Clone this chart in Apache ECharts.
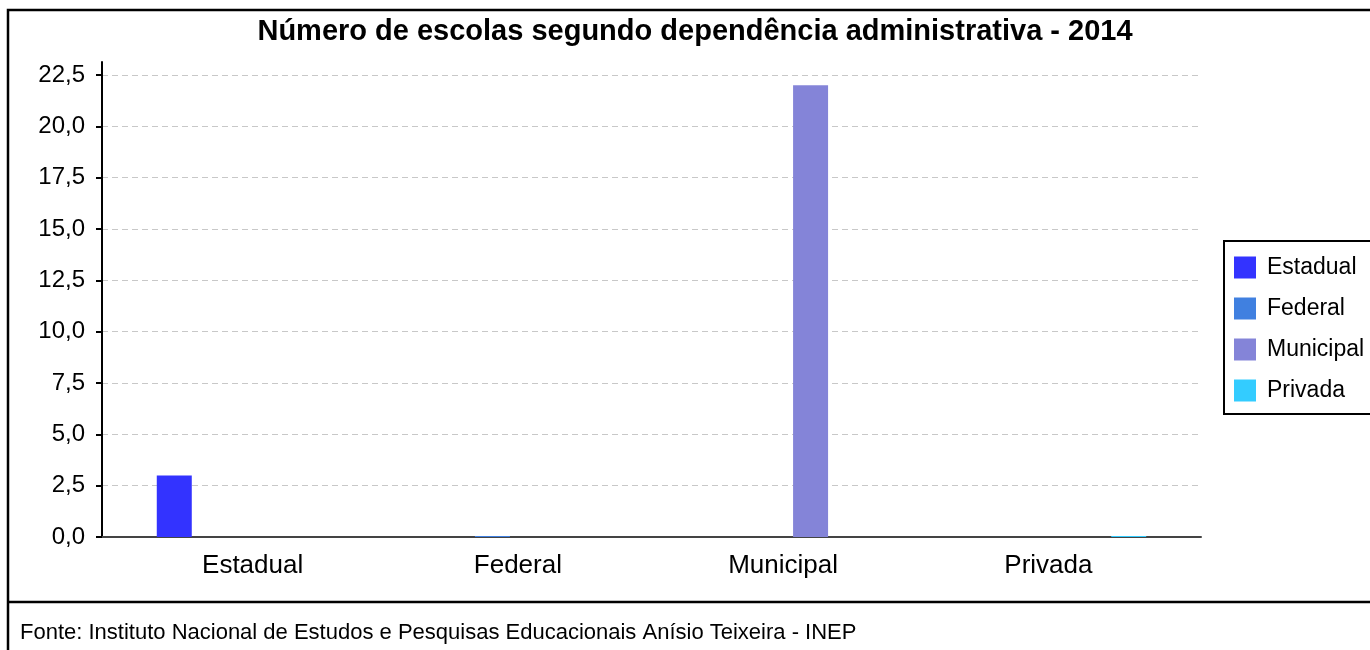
<!DOCTYPE html>
<html>
<head>
<meta charset="utf-8">
<script src="https://cdn.jsdelivr.net/npm/echarts@6/dist/echarts.min.js"></script>
<style>
html,body{margin:0;padding:0;background:#fff;}
#c{width:1370px;height:650px;}
</style>
</head>
<body>
<div id="c"></div>
<script>
const categories = ['Estadual', 'Federal', 'Municipal', 'Privada'];
const estadualValues = [3, null, null, null];
const federalValues = [null, 0, null, null];
const municipalValues = [null, null, 22, null];
const privadaValues = [null, null, null, 0];
const yTickValues = [0, 2.5, 5, 7.5, 10, 12.5, 15, 17.5, 20, 22.5];
const titleText = 'Número de escolas segundo dependência administrativa - 2014';
const sourceText = 'Fonte: Instituto Nacional de Estudos e Pesquisas Educacionais Anísio Teixeira - INEP';

const colors = ['#3333ff', '#4080e0', '#8484d8', '#33ccff'];
const FONT = 'Liberation Sans, Arial, sans-serif';
const fmt = v => v.toFixed(1).replace('.', ',');

const chart = echarts.init(document.getElementById('c'), null, {renderer: 'canvas'});

function mkSeries(name, data, color) {
  return {
    name: name, type: 'bar', data: data,
    xAxisIndex: 0, yAxisIndex: 0,
    barWidth: 35, barGap: '24%', barMinHeight: 1,
    itemStyle: {color: color},
    emphasis: {disabled: true},
    animation: false
  };
}

chart.setOption({
  animation: false,
  color: colors,
  textStyle: {fontFamily: FONT},
  title: [{
    text: titleText,
    left: 695, top: 17, padding: 0,
    textAlign: 'center',
    textStyle: {fontFamily: FONT, fontSize: 29, fontWeight: 'bold', color: '#000'}
  }, {
    text: sourceText,
    left: 20, top: 622, padding: 0,
    textStyle: {fontFamily: FONT, fontSize: 22, fontWeight: 'normal', color: '#000'}
  }],
  legend: {
    orient: 'vertical',
    left: 1224, top: 241,
    padding: [15, 10, 12, 10],
    itemWidth: 22, itemHeight: 22, itemGap: 18,
    borderColor: '#000', borderWidth: 2, borderRadius: 0,
    icon: 'rect',
    textStyle: {fontFamily: FONT, fontSize: 23, color: '#000', padding: [0, 0, 0, 6]},
    data: categories
  },
  grid: [
    {left: 102, right: 169, top: 62, bottom: 113, containLabel: false},
    {left: 120, width: 1061, top: 62, bottom: 113, containLabel: false}
  ],
  xAxis: [{
    gridIndex: 0,
    type: 'category', data: categories,
    axisLine: {show: true, lineStyle: {color: '#444', width: 2}},
    axisTick: {show: false},
    axisLabel: {show: false},
    splitLine: {show: false}
  }, {
    gridIndex: 1,
    type: 'category', data: categories,
    axisLine: {show: false},
    axisTick: {show: false},
    axisLabel: {show: true, margin: 16, fontFamily: FONT, fontSize: 26, color: '#000'},
    splitLine: {show: false}
  }],
  yAxis: [{
    gridIndex: 0,
    type: 'value', min: 0, max: 23.13, interval: 2.5,
    axisLine: {show: true, lineStyle: {color: '#000', width: 2}},
    axisTick: {show: true, length: 6, lineStyle: {color: '#000', width: 2}, customValues: yTickValues},
    axisLabel: {margin: 17, padding: [5, 0, 0, 0], fontFamily: FONT, fontSize: 24, color: '#000', formatter: fmt, customValues: yTickValues},
    splitLine: {show: true, lineStyle: {color: '#c8c8c8', width: 1, type: [6, 4]}}
  }, {
    gridIndex: 1, type: 'value', show: false, min: 0, max: 1
  }],
  graphic: [{
    type: 'rect', silent: true, z: 100,
    shape: {x: 8, y: 10, width: 1400, height: 700},
    style: {fill: 'none', stroke: '#000', lineWidth: 2.5}
  }, {
    type: 'line', silent: true, z: 100,
    shape: {x1: 8, y1: 602, x2: 1400, y2: 602},
    style: {stroke: '#000', lineWidth: 2.5}
  }],
  series: [
    mkSeries(categories[0], estadualValues, colors[0]),
    mkSeries(categories[1], federalValues, colors[1]),
    mkSeries(categories[2], municipalValues, colors[2]),
    mkSeries(categories[3], privadaValues, colors[3])
  ]
});
</script>
</body>
</html>
